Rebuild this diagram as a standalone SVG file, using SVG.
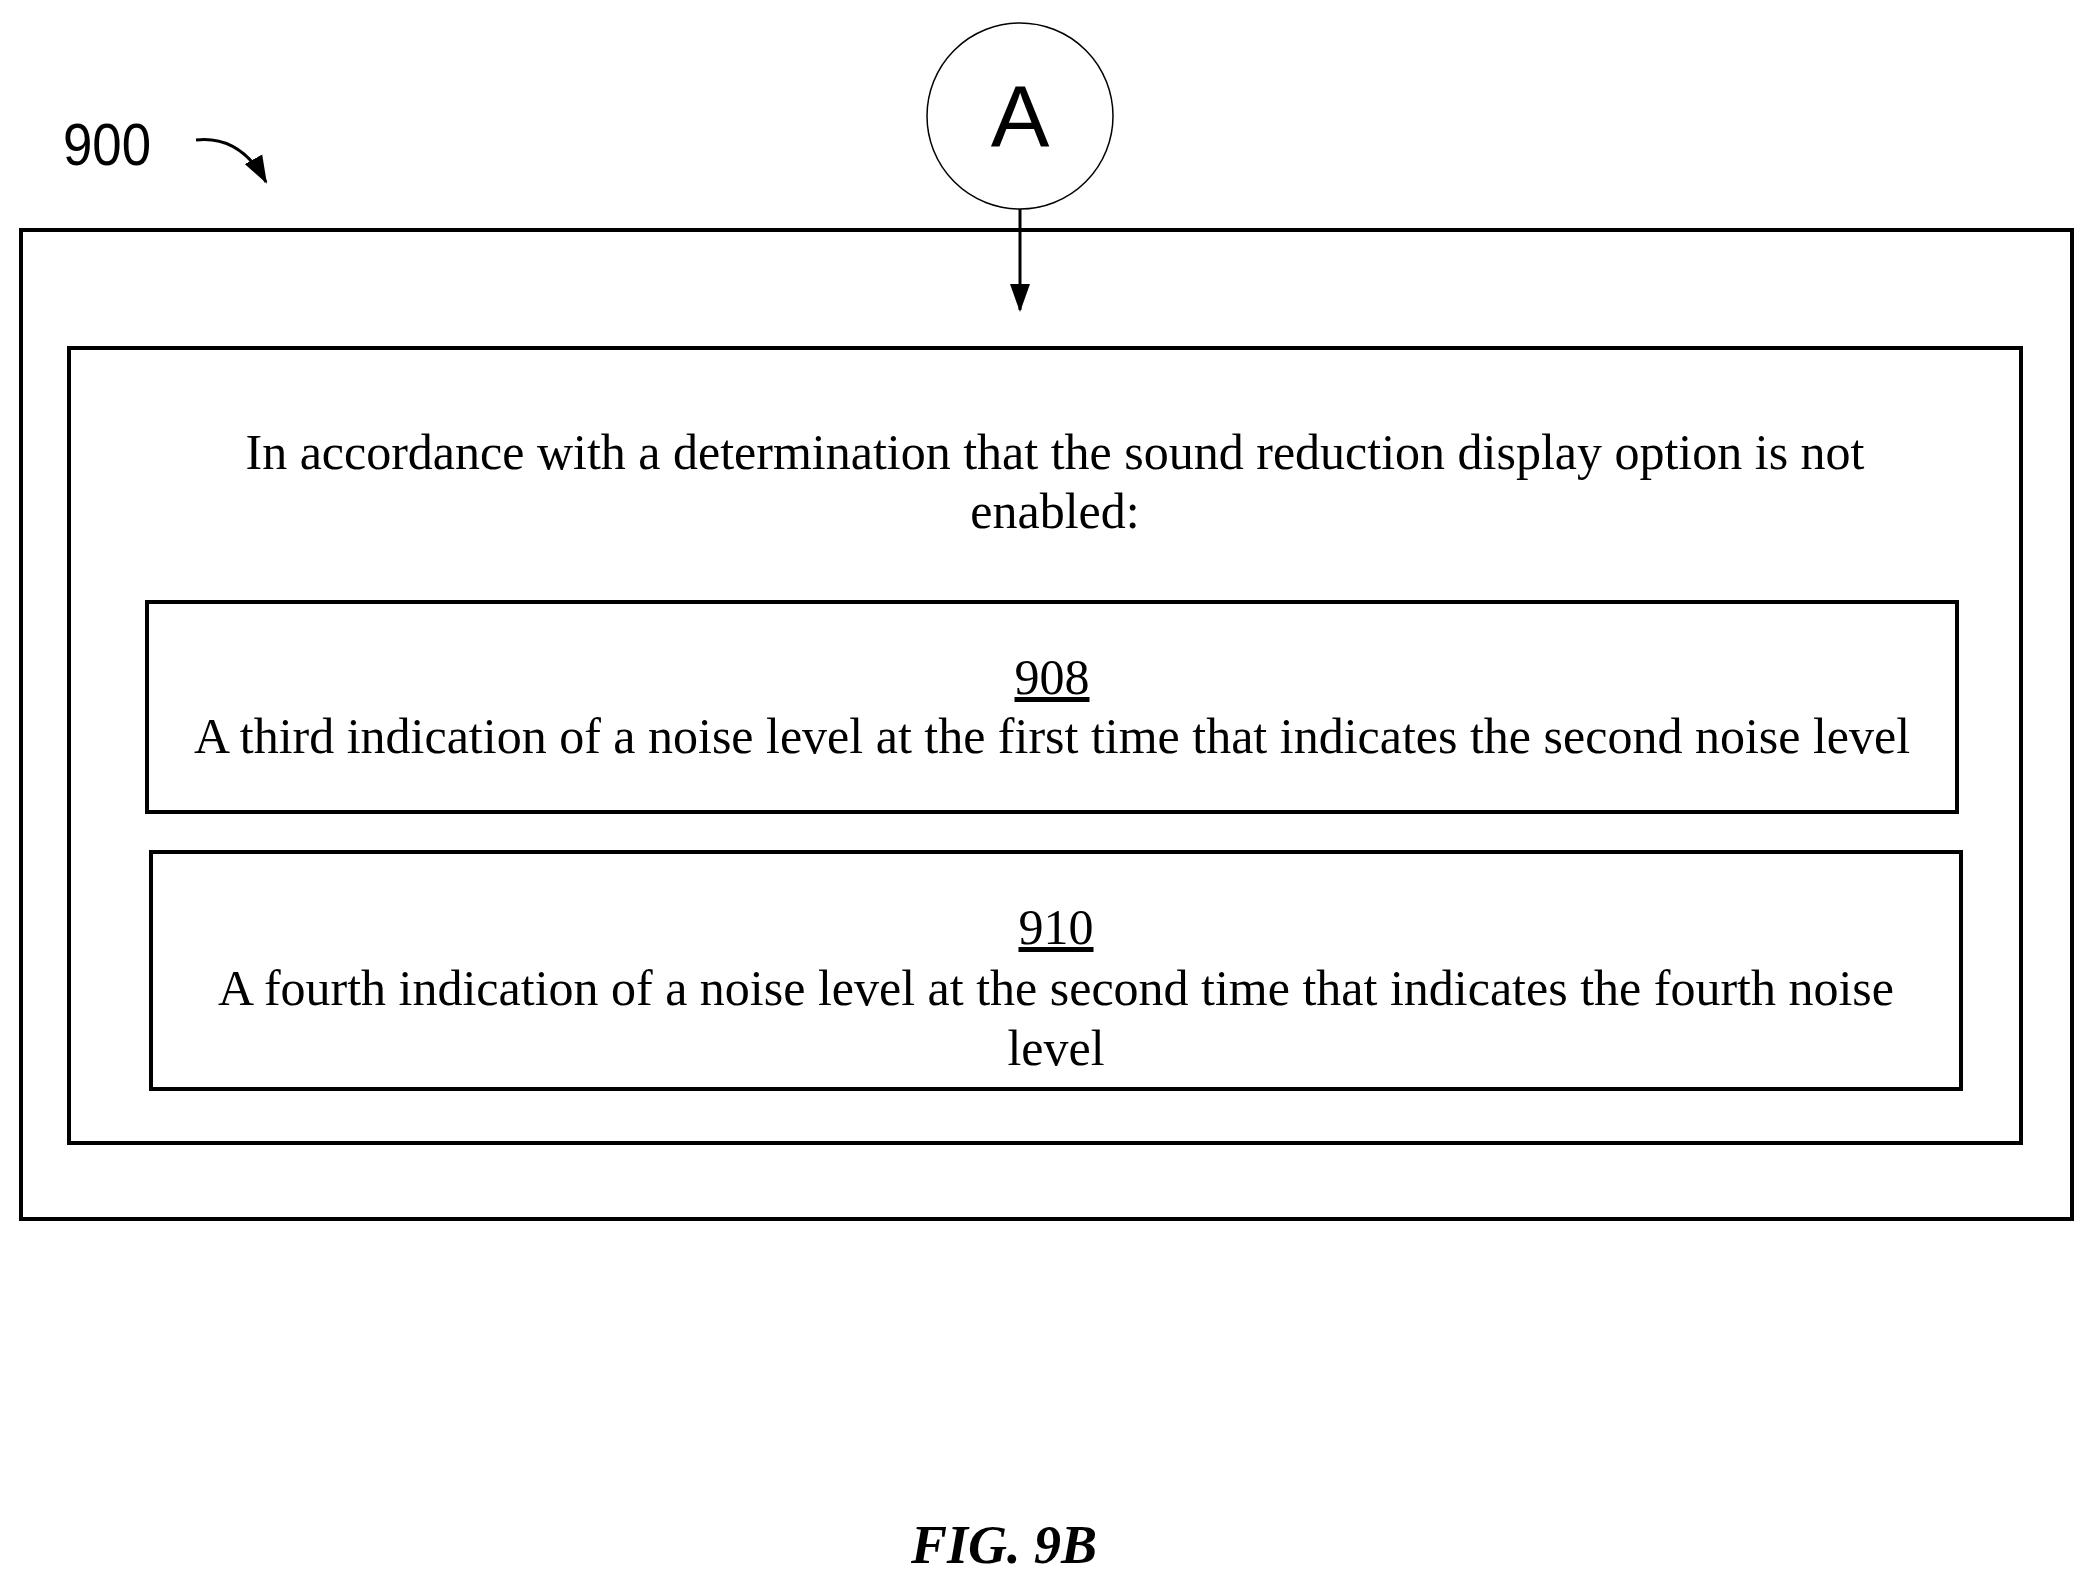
<svg xmlns="http://www.w3.org/2000/svg" width="2093" height="1586" viewBox="0 0 2093 1586">
<style>
.b{fill:none;stroke:#000;stroke-width:4}
.t{font-family:"Liberation Serif",serif;font-size:50px;text-anchor:middle}
</style>
<defs>
<marker id="ah2" markerWidth="28" markerHeight="28" refX="26" refY="14" orient="auto" markerUnits="userSpaceOnUse"><path d="M0,4L28,14L0,24z"/></marker></defs>
<rect width="2093" height="1586" fill="#fff"/>
<g id="label900"><text x="63" y="165" font-family="Liberation Sans,sans-serif" font-size="60" textLength="88" lengthAdjust="spacingAndGlyphs">900</text>
<path d="M196,140 Q240,135 266,182" fill="none" stroke="#000" stroke-width="3" marker-end="url(#ah2)"/></g>
<g id="outer"><rect class="b" x="21" y="230" width="2051" height="989"/></g>
<g id="inner"><rect class="b" x="69" y="348" width="1952" height="795"/>
<text class="t" x="1055" y="469">In accordance with a determination that the sound reduction display option is not</text>
<text class="t" x="1055" y="528">enabled:</text></g>
<g id="n908"><rect class="b" x="147" y="602" width="1810" height="210"/>
<text class="t" x="1052" y="694" text-decoration="underline">908</text>
<text class="t" x="1052" y="753">A third indication of a noise level at the first time that indicates the second noise level</text></g>
<g id="n910"><rect class="b" x="151" y="852" width="1810" height="237"/>
<text class="t" x="1056" y="944" text-decoration="underline">910</text>
<text class="t" x="1056" y="1005">A fourth indication of a noise level at the second time that indicates the fourth noise</text>
<text class="t" x="1056" y="1065">level</text></g>
<g id="A"><circle cx="1020" cy="116" r="93" fill="#fff" stroke="#000" stroke-width="1.5"/>
<text x="1020" y="147" font-family="Liberation Sans,sans-serif" font-size="88" text-anchor="middle">A</text></g>
<g id="connectors"><line x1="1020" y1="209" x2="1020" y2="310" stroke="#000" stroke-width="3" marker-end="url(#ah2)"/></g>
<text x="1004" y="1563" font-family="Liberation Serif,serif" font-size="54" font-weight="bold" font-style="italic" text-anchor="middle">FIG. 9B</text>
</svg>
